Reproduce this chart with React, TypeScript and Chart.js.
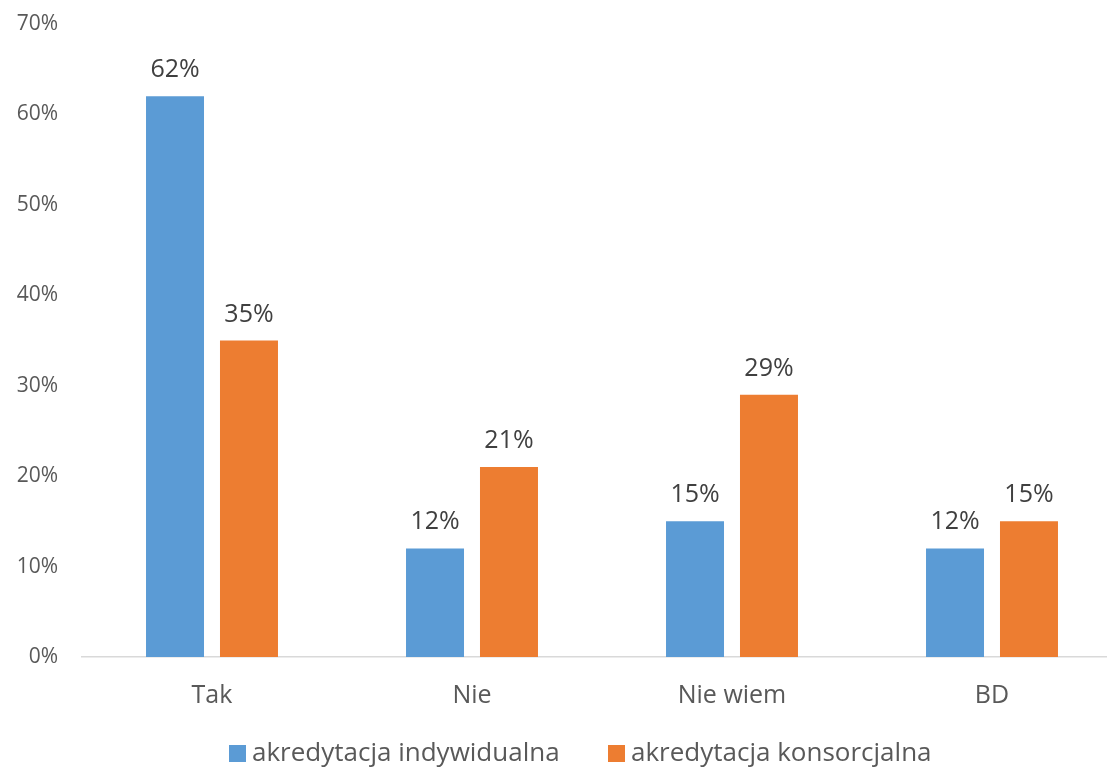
import React, { useEffect, useRef } from "react";
import { Chart, registerables } from "chart.js";

Chart.register(...registerables);

const categories = ["Tak", "Nie", "Nie wiem", "BD"];
const seriesNames = ["akredytacja indywidualna", "akredytacja konsorcjalna"];
const seriesColors = ["#5B9BD5", "#ED7D31"];
const indywidualna = [62, 12, 15, 12];
const konsorcjalna = [35, 21, 29, 15];
const yTicks = [0, 10, 20, 30, 40, 50, 60, 70];

const FONT = "'Open Sans', 'Noto Sans', sans-serif";

const dataLabelPlugin = {
  id: "dataLabels",
  afterDatasetsDraw(chart: any) {
    const ctx = chart.ctx;
    ctx.save();
    ctx.font = `25px ${FONT}`;
    ctx.fillStyle = "#404040";
    ctx.textAlign = "center";
    ctx.textBaseline = "alphabetic";
    chart.data.datasets.forEach((ds: any, di: number) => {
      const meta = chart.getDatasetMeta(di);
      meta.data.forEach((bar: any, i: number) => {
        ctx.fillText(`${ds.data[i]}%`, bar.x, bar.y - 19);
      });
    });
    ctx.restore();
  },
};

const legendStarts = [229, 608];

const customLegendPlugin = {
  id: "customLegend",
  afterDraw(chart: any) {
    const ctx = chart.ctx;
    ctx.save();
    ctx.font = `26px ${FONT}`;
    ctx.textAlign = "left";
    ctx.textBaseline = "alphabetic";
    chart.data.datasets.forEach((ds: any, i: number) => {
      const x = legendStarts[i];
      ctx.fillStyle = ds.backgroundColor;
      ctx.fillRect(x, 745, 17, 17);
      ctx.fillStyle = "#595959";
      ctx.fillText(ds.label, x + 23, 761);
    });
    ctx.restore();
  },
};

export default function App() {
  const ref = useRef<HTMLCanvasElement>(null);
  useEffect(() => {
    if (!ref.current) return;
    const chart = new Chart(ref.current, {
      type: "bar",
      data: {
        labels: categories,
        datasets: [
          {
            label: seriesNames[0],
            data: indywidualna,
            backgroundColor: seriesColors[0],
            categoryPercentage: 0.569,
            barPercentage: 0.784,
          },
          {
            label: seriesNames[1],
            data: konsorcjalna,
            backgroundColor: seriesColors[1],
            categoryPercentage: 0.569,
            barPercentage: 0.784,
          },
        ],
      },
      options: {
        animation: false,
        responsive: true,
        maintainAspectRatio: false,
        layout: { padding: { top: 24, right: 0, left: 0, bottom: 32 } },
        scales: {
          x: {
            grid: { display: false, drawTicks: false },
            border: { display: true, color: "#D9D9D9", width: 1.5 },
            ticks: { color: "#595959", font: { family: FONT, size: 25 }, padding: 24 },
            afterFit: (axis: any) => {
              axis.paddingLeft = 0;
              axis.paddingRight = 0;
            },
          },
          y: {
            min: 0,
            max: 70,
            afterBuildTicks: (axis: any) => {
              axis.ticks = yTicks.map((v) => ({ value: v }));
            },
            afterFit: (axis: any) => {
              axis.width = 82;
              axis.paddingTop = 0;
              axis.paddingBottom = 0;
            },
            grid: { display: false, drawTicks: false },
            border: { display: false },
            ticks: {
              color: "#595959",
              font: { family: FONT, size: 21 },
              padding: 24,
              callback: (v: any) => `${v}%`,
            },
          },
        },
        plugins: {
          legend: { display: false },
          tooltip: { enabled: false },
        },
      },
      plugins: [dataLabelPlugin, customLegendPlugin],
    });
    return () => chart.destroy();
  }, []);
  return (
    <div style={{ position: "fixed", left: 0, top: 0, width: "1122px", height: "767px" }}>
      <canvas ref={ref} />
    </div>
  );
}
